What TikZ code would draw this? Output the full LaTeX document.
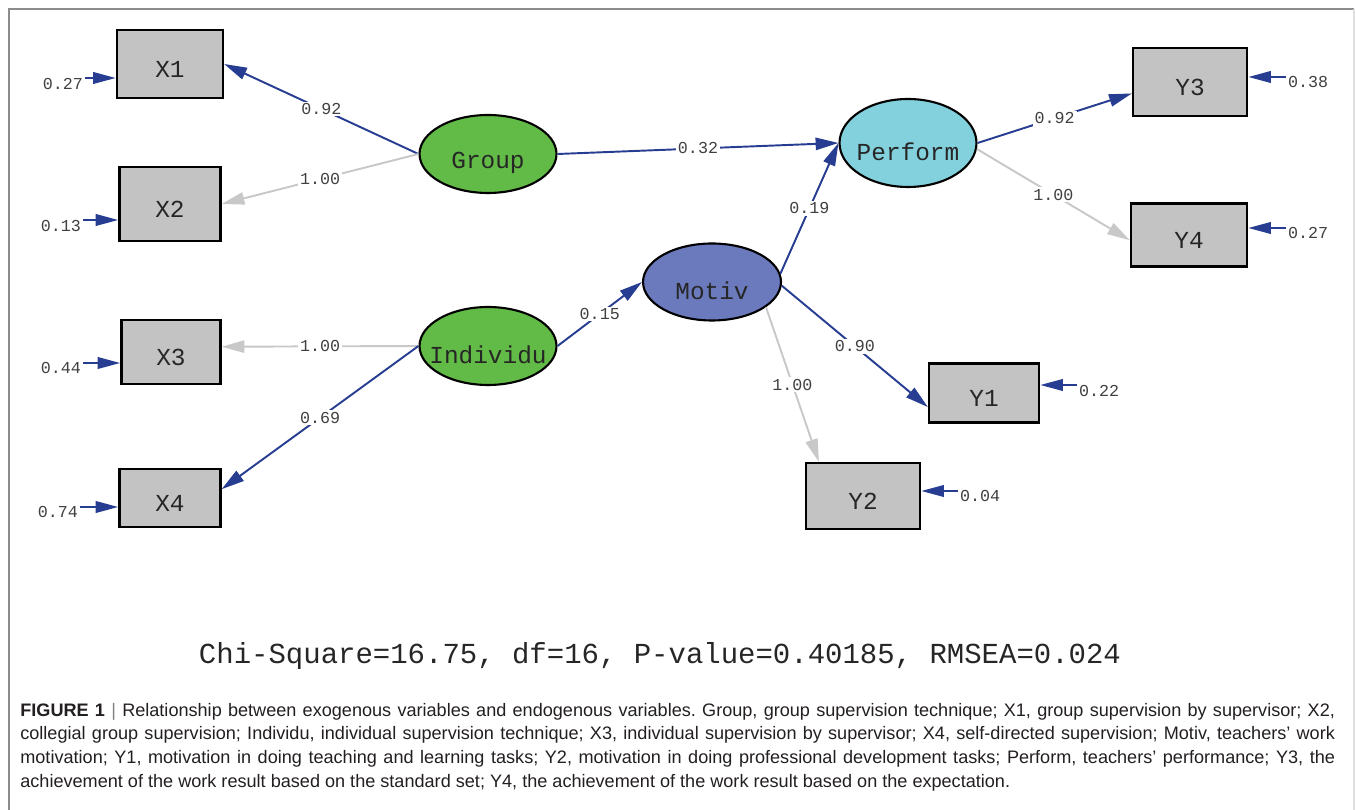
\documentclass[tikz,border=0pt]{standalone}
\usepackage{fontspec}
\setmainfont{Liberation Sans}
\setmonofont{Liberation Mono}
\usetikzlibrary{shapes.geometric,arrows.meta}
\definecolor{pathblue}{RGB}{39,61,145}
\definecolor{fixgray}{RGB}{200,200,200}
\definecolor{boxgray}{RGB}{195,195,195}
\definecolor{latgreen}{RGB}{98,187,70}
\definecolor{motivblue}{RGB}{107,121,189}
\definecolor{perfcyan}{RGB}{132,209,222}
\definecolor{captext}{RGB}{35,31,32}
\frenchspacing
\begin{document}
\begin{tikzpicture}[x=0.02cm, y=-0.02cm,
	obs/.style={draw=black, line width=1.3pt, fill=boxgray, minimum width=2.1cm, minimum height=1.3cm, inner sep=0pt,
		font=\ttfamily\fontsize{13.9}{14}\selectfont, text=black!85, text height=0.53cm, text depth=0pt},
	lat/.style={ellipse, draw=black, line width=1.2pt, minimum width=2.74cm, minimum height=1.56cm, inner sep=0pt},
	lattext/.style={font=\ttfamily\fontsize{13.9}{14}\selectfont, text=black!85, yshift=-5pt},
	est/.style={draw=pathblue, line width=1.1pt, -{Triangle[length=13pt,width=7pt]}},
	fix/.style={draw=fixgray, line width=1.1pt, -{Triangle[length=13pt,width=7pt]}},
	err/.style={draw=pathblue, line width=1.5pt, -{Triangle[length=13pt,width=6.5pt]}},
	coef/.style={font=\ttfamily\fontsize{9.5}{10}\selectfont, text=black!75, fill=white, inner sep=1pt},
	errlab/.style={font=\ttfamily\fontsize{9.5}{10}\selectfont, text=black!75, inner sep=1pt},
	capline/.style={anchor=west, inner sep=0pt, font=\fontsize{10.3}{12}\selectfont, text=captext}]
	\useasboundingbox (0,0) rectangle (1355,810);

	% frame
	\draw[gray!90, line width=0.6pt] (9,810) -- (9,9) -- (1354,9);
	\draw[gray!25, line width=0.6pt] (1354,9) -- (1354,810);

	% observed variables
	\node[obs, minimum width=2.12cm, minimum height=1.36cm] (x1) at (170,64) {X1};
	\node[obs, minimum width=2.02cm, minimum height=1.48cm] (x2) at (170,204) {X2};
	\node[obs, minimum width=1.98cm, minimum height=1.28cm] (x3) at (171,352) {X3};
	\node[obs, minimum width=2.02cm, minimum height=1.16cm] (x4) at (170,498) {X4};
	\node[obs, minimum width=2.2cm, minimum height=1.18cm] (y1) at (984,393) {Y1};
	\node[obs, minimum width=2.28cm, minimum height=1.32cm] (y2) at (863,496) {Y2};
	\node[obs, minimum width=2.28cm, minimum height=1.36cm] (y3) at (1190,82) {Y3};
	\node[obs, minimum width=2.32cm, minimum height=1.26cm] (y4) at (1189,235) {Y4};

	% latent variables
	\node[lat, fill=latgreen, label={[lattext]center:Group}] (group) at (488,154) {};
	\node[lat, fill=latgreen, label={[lattext]center:Individu}] (ind) at (488,346) {};
	\node[lat, fill=motivblue, minimum width=2.76cm, minimum height=1.54cm, label={[lattext]center:Motiv}] (motiv) at (712,282) {};
	\node[lat, fill=perfcyan, minimum height=1.76cm, label={[lattext]center:Perform}] (perform) at (908,143) {};

	% paths
	\draw[est] (group.west) -- node[coef] {0.92} (x1.east);
	\draw[fix] (group.west) -- node[coef] {1.00} (x2.east);
	\draw[fix] (ind.west) -- node[coef] {1.00} ([yshift=3pt]x3.east);
	\draw[est] (ind.west) -- node[coef] {0.69} ([yshift=5pt]x4.east);
	\draw[est] (group.east) -- node[coef] {0.32} (perform.west);
	\draw[est] (ind.east) -- node[coef] {0.15} (motiv.west);
	\draw[est] (motiv.7) -- node[coef] {0.19} (perform.west);
	\draw[est] (motiv.-3) -- node[coef] {0.90} ([yshift=-8pt]y1.west);
	\draw[fix] (motiv.-25) -- node[coef] {1.00} ([xshift=8pt]y2.north west);
	\draw[est] (perform.east) -- node[coef] {0.92} ([yshift=-6.5pt]y3.west);
	\draw[fix] (perform.-5) -- node[coef] {1.00} ([yshift=-3pt]y4.west);

	% error variances
	\node[errlab, anchor=east] (e1) at (85,84) {0.27};
	\draw[err] (e1.east) ++(0,-6) coordinate (s1) -- (s1 -| x1.west);
	\node[errlab, anchor=east] (e2) at (83,226) {0.13};
	\draw[err] (e2.east) ++(0,-6) coordinate (s2) -- (s2 -| x2.west);
	\node[errlab, anchor=east] (e3) at (83,368) {0.44};
	\draw[err] (e3.east) ++(0,-5) coordinate (s3) -- (s3 -| x3.west);
	\node[errlab, anchor=east] (e4) at (80,512) {0.74};
	\draw[err] (e4.east) ++(0,-5) coordinate (s4) -- (s4 -| x4.west);
	\node[errlab, anchor=west] (d1) at (1077,391) {0.22};
	\draw[err] (d1.west) ++(0,-6) coordinate (t1) -- (t1 -| y1.east);
	\node[errlab, anchor=west] (d2) at (958,496) {0.04};
	\draw[err] (d2.west) ++(0,-5) coordinate (t2) -- (t2 -| y2.east);
	\node[errlab, anchor=west] (d3) at (1286,82) {0.38};
	\draw[err] (d3.west) ++(0,-5) coordinate (t3) -- (t3 -| y3.east);
	\node[errlab, anchor=west] (d4) at (1286,233) {0.27};
	\draw[err] (d4.west) ++(0,-5) coordinate (t4) -- (t4 -| y4.east);

	% fit statistics
	\node[font=\ttfamily\fontsize{16.5}{18}\selectfont, text=black!85] (fit) at (660,656) {Chi-Square=16.75, df=16, P-value=0.40185, RMSEA=0.024};

	% caption
	\node[capline] (cap1) at (20,712) {\makebox[26.3cm][s]{\textbf{FIGURE 1} {\color{gray}|} Relationship between exogenous variables and endogenous variables. Group, group supervision technique; X1, group supervision by supervisor; X2,}};
	\node[capline] (cap2) at (20,735) {\makebox[26.3cm][s]{collegial group supervision; Individu, individual supervision technique; X3, individual supervision by supervisor; X4, self-directed supervision; Motiv, teachers’ work}};
	\node[capline] (cap3) at (20,759) {\makebox[26.3cm][s]{motivation; Y1, motivation in doing teaching and learning tasks; Y2, motivation in doing professional development tasks; Perform, teachers’ performance; Y3, the}};
	\node[capline] (cap4) at (20,783) {achievement of the work result based on the standard set; Y4, the achievement of the work result based on the expectation.};
\end{tikzpicture}
\end{document}
